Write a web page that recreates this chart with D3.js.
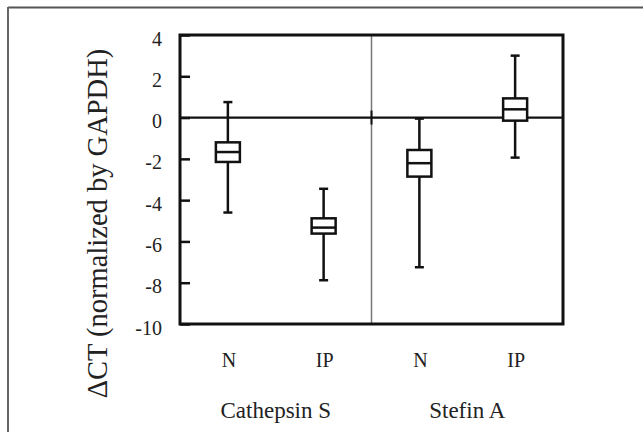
<!DOCTYPE html>
<html>
<head>
<meta charset="utf-8">
<script src="https://cdn.jsdelivr.net/npm/d3@7"></script>
<style>
  body { margin: 0; background: #fff; }
  svg text { font-family: "Liberation Serif", "Times New Roman", serif !important; fill: #222; }
</style>
</head>
<body>
<svg width="643" height="432"></svg>
<script>
const conditions = ['N', 'IP', 'N', 'IP'];
const genes = ['Cathepsin S', 'Stefin A'];
const whiskerTop = [0.75, -3.45, -0.05, 3.0];
const boxTop = [-1.2, -4.88, -1.57, 0.93];
const medians = [-1.67, -5.33, -2.21, 0.4];
const boxBottom = [-2.15, -5.62, -2.86, -0.15];
const whiskerBottom = [-4.6, -7.88, -7.25, -1.94];
const yTicks = [4, 2, 0, -2, -4, -6, -8, -10];

const svg = d3.select('svg');
const plotL = 180, plotR = 563, plotT = 35, plotB = 324;
const serif = 'Liberation Serif';

// outer frame of the figure (top and left only)
svg.append('line').attr('x1', 8).attr('x2', 643).attr('y1', 7.5).attr('y2', 7.5)
  .attr('stroke', '#555').attr('stroke-width', 2);
svg.append('line').attr('x1', 8).attr('x2', 8).attr('y1', 7).attr('y2', 432)
  .attr('stroke', '#666').attr('stroke-width', 2);

const idx = d3.range(conditions.length);
const x = d3.scaleBand().domain(idx).range([plotL, plotR]);
const y = d3.scaleLinear().domain([-10, 4]).range([plotB, plotT]);

// y axis, inward ticks
const yAxis = svg.append('g')
  .attr('transform', `translate(${plotL},0)`)
  .call(d3.axisLeft(y).tickValues(yTicks).tickFormat(d => String(d))
    .tickSizeInner(-10).tickSizeOuter(0).tickPadding(18));
yAxis.attr('font-family', serif);
yAxis.select('.domain').remove();
yAxis.selectAll('.tick line').attr('stroke', '#111').attr('stroke-width', 2.5);
yAxis.selectAll('.tick text')
  .attr('font-size', 20).attr('fill', '#222')
  .attr('dy', '0.5em');

// group divider
const divX = x(2);
svg.append('line').attr('x1', divX).attr('x2', divX).attr('y1', plotT).attr('y2', plotB)
  .attr('stroke', '#777').attr('stroke-width', 1.5);
// zero line
svg.append('line').attr('x1', plotL).attr('x2', plotR).attr('y1', y(0)).attr('y2', y(0))
  .attr('stroke', '#111').attr('stroke-width', 2.2);
svg.append('line').attr('x1', divX).attr('x2', divX).attr('y1', y(0) - 7).attr('y2', y(0) + 7)
  .attr('stroke', '#111').attr('stroke-width', 2);

// plot frame
svg.append('rect').attr('x', plotL).attr('y', plotT)
  .attr('width', plotR - plotL).attr('height', plotB - plotT)
  .attr('fill', 'none').attr('stroke', '#111').attr('stroke-width', 3);

// box plots
const boxW = 24, capW = 9;
const g = svg.append('g').selectAll('g').data(idx).join('g');
g.append('line')
  .attr('x1', i => x(i) + x.bandwidth() / 2).attr('x2', i => x(i) + x.bandwidth() / 2)
  .attr('y1', i => y(whiskerTop[i])).attr('y2', i => y(whiskerBottom[i]))
  .attr('stroke', '#111').attr('stroke-width', 2.5);
g.selectAll('.cap').data(i => [[i, whiskerTop[i]], [i, whiskerBottom[i]]]).join('line')
  .attr('class', 'cap')
  .attr('x1', d => x(d[0]) + x.bandwidth() / 2 - capW / 2)
  .attr('x2', d => x(d[0]) + x.bandwidth() / 2 + capW / 2)
  .attr('y1', d => y(d[1])).attr('y2', d => y(d[1]))
  .attr('stroke', '#111').attr('stroke-width', 2.5);
g.append('rect')
  .attr('x', i => x(i) + x.bandwidth() / 2 - boxW / 2)
  .attr('y', i => y(boxTop[i]))
  .attr('width', boxW)
  .attr('height', i => y(boxBottom[i]) - y(boxTop[i]))
  .attr('fill', '#fff').attr('stroke', '#111').attr('stroke-width', 2.5);
g.append('line')
  .attr('x1', i => x(i) + x.bandwidth() / 2 - boxW / 2)
  .attr('x2', i => x(i) + x.bandwidth() / 2 + boxW / 2)
  .attr('y1', i => y(medians[i])).attr('y2', i => y(medians[i]))
  .attr('stroke', '#111').attr('stroke-width', 2.5);

// category labels
svg.append('g').selectAll('text').data(idx).join('text')
  .attr('x', i => x(i) + x.bandwidth() / 2 + 1)
  .attr('y', 367)
  .attr('font-family', serif)
  .attr('text-anchor', 'middle').attr('font-size', 20)
  .text(i => conditions[i]);

svg.append('g').selectAll('text').data(genes).join('text')
  .attr('x', (d, j) => (x(2 * j) + x(2 * j + 1)) / 2 + x.bandwidth() / 2)
  .attr('y', 418)
  .attr('font-family', serif)
  .attr('text-anchor', 'middle').attr('font-size', 23)
  .text(d => d);

// y axis title
svg.append('text')
  .attr('transform', `translate(107,${(47 + 400) / 2}) rotate(-90)`)
  .attr('font-family', serif)
  .attr('text-anchor', 'middle').attr('font-size', 28.5)
  .text('ΔCT (normalized by GAPDH)');
</script>
</body>
</html>
